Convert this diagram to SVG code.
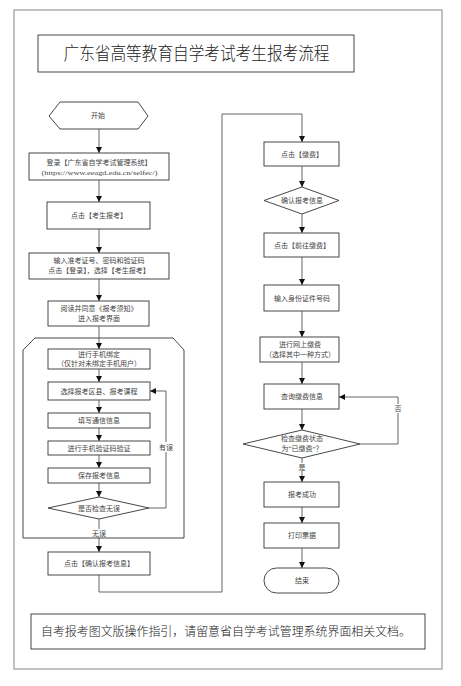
<svg xmlns="http://www.w3.org/2000/svg" width="461" height="686" viewBox="0 0 461 686">
<defs>
<style>
.frame{fill:none;stroke:#999;stroke-width:1.2}
.box{fill:#fff;stroke:#333;stroke-width:0.9}
.ln{fill:none;stroke:#555;stroke-width:0.9}
.t{font-family:"Liberation Serif","Noto Sans CJK SC",serif;font-size:7px;fill:#444;text-anchor:middle}
.title{font-family:"Noto Sans CJK SC",sans-serif;font-size:18px;font-weight:300;fill:#222;text-anchor:middle}
.foot{font-family:"Noto Sans CJK SC",sans-serif;font-size:12px;font-weight:300;fill:#222;text-anchor:middle}
.lbl{fill:#fff;stroke:none}
</style>
<marker id="ah" markerUnits="userSpaceOnUse" markerWidth="6" markerHeight="6" viewBox="0 0 6 6" refX="6" refY="3" orient="auto">
<path d="M0,0 L6,3 L0,6 Z" fill="#111"/>
</marker>
</defs>
<rect width="461" height="686" fill="#fff"/>
<rect class="frame" x="14" y="10" width="428" height="659"/>
<g id="title"><rect class="box" x="38" y="35" width="316" height="37"/><text class="title" x="196.5" y="60" textLength="266" lengthAdjust="spacingAndGlyphs">广东省高等教育自学考试考生报考流程</text></g>
<g id="container"><path class="box" d="M35,338 H173 L184,350 V538 H23 V350 Z"/></g>
<g id="start"><polygon class="box" points="49,116 60,102 138,102 148,116 138,129 60,129"/><text class="t" x="98" y="118">开始</text></g>
<g id="login"><rect class="box" x="29" y="153" width="140" height="27"/><text class="t" x="99" y="165">登录【广东省自学考试管理系统】</text><text class="t" x="99.5" y="175" textLength="116" lengthAdjust="spacingAndGlyphs">(https://www.eeagd.edu.cn/selfec/)</text></g>
<g id="kaosheng"><rect class="box" x="47" y="202" width="103" height="27"/><text class="t" x="99" y="218">点击【考生报考】</text></g>
<g id="input"><rect class="box" x="29" y="253" width="140" height="26"/><text class="t" x="99" y="263">输入准考证号、密码和验证码</text><text class="t" x="99" y="273">点击【登录】，选择【考生报考】</text></g>
<g id="read"><rect class="box" x="48" y="301" width="101" height="25"/><text class="t" x="99" y="311">阅读并同意《报考须知》</text><text class="t" x="99" y="321">进入报考界面</text></g>
<g id="bind"><rect class="box" x="48" y="349" width="102" height="20"/><text class="t" x="99" y="357">进行手机绑定</text><text class="t" x="99" y="366">（仅针对未绑定手机用户）</text></g>
<g id="select"><rect class="box" x="48" y="382" width="102" height="18"/><text class="t" x="99" y="393.5">选择报考区县、报考课程</text></g>
<g id="fill"><rect class="box" x="48" y="413" width="102" height="15"/><text class="t" x="99" y="423">填写通信信息</text></g>
<g id="verify"><rect class="box" x="48" y="441" width="102" height="14"/><text class="t" x="99" y="450.5">进行手机验证码验证</text></g>
<g id="save"><rect class="box" x="48" y="468" width="102" height="15"/><text class="t" x="99" y="478">保存报考信息</text></g>
<g id="check"><polygon class="box" points="48,508 99,497 149,508 99,519"/><text class="t" x="99" y="510.5">是否检查无误</text></g>
<g id="confirm"><rect class="box" x="48" y="552" width="102" height="23"/><text class="t" x="99" y="566">点击【确认报考信息】</text></g>
<g id="pay"><rect class="box" x="264" y="142" width="75" height="24"/><text class="t" x="302" y="156.5">点击【缴费】</text></g>
<g id="confirminfo"><polygon class="box" points="264,200.5 302,187 339,200.5 302,214"/><text class="t" x="302" y="203">确认报考信息</text></g>
<g id="gopay"><rect class="box" x="264" y="233" width="75" height="24"/><text class="t" x="302" y="247.5">点击【前往缴费】</text></g>
<g id="idnum"><rect class="box" x="264" y="285" width="75" height="26"/><text class="t" x="302" y="300.5">输入身份证件号码</text></g>
<g id="online"><rect class="box" x="260" y="337" width="79" height="25"/><text class="t" x="300" y="347">进行网上缴费</text><text class="t" x="300" y="357">（选择其中一种方式）</text></g>
<g id="query"><rect class="box" x="264" y="384" width="75" height="25"/><text class="t" x="302" y="399">查询缴费信息</text></g>
<g id="status"><polygon class="box" points="243,444 302,430 360,444 302,458"/><text class="t" x="302" y="441">检查缴费状态</text><text class="t" x="302" y="451">为“已缴费”？</text></g>
<g id="success"><rect class="box" x="264" y="482" width="75" height="25"/><text class="t" x="302" y="497">报考成功</text></g>
<g id="print"><rect class="box" x="264" y="523" width="75" height="25"/><text class="t" x="302" y="538">打印票据</text></g>
<g id="end"><rect class="box" x="264" y="568" width="75" height="25" rx="12.5" ry="12.5"/><text class="t" x="302" y="583">结束</text></g>
<g id="footer"><rect class="box" x="31" y="614" width="394" height="35"/><text class="foot" x="226" y="636" textLength="370" lengthAdjust="spacingAndGlyphs">自考报考图文版操作指引，请留意省自学考试管理系统界面相关文档。</text></g>
<g id="connectors">
<path class="ln" marker-end="url(#ah)" d="M99,129 V153"/>
<path class="ln" marker-end="url(#ah)" d="M99,180 V202"/>
<path class="ln" marker-end="url(#ah)" d="M99,229 V253"/>
<path class="ln" marker-end="url(#ah)" d="M99,279 V301"/>
<path class="ln" marker-end="url(#ah)" d="M99,326 V349"/>
<path class="ln" marker-end="url(#ah)" d="M99,369 V382"/>
<path class="ln" marker-end="url(#ah)" d="M99,400 V413"/>
<path class="ln" marker-end="url(#ah)" d="M99,428 V441"/>
<path class="ln" marker-end="url(#ah)" d="M99,455 V468"/>
<path class="ln" marker-end="url(#ah)" d="M99,483 V497"/>
<path class="ln" marker-end="url(#ah)" d="M99,519 V552"/>
<path class="ln" marker-end="url(#ah)" d="M149,508 H166 V391 H150"/>
<path class="ln" marker-end="url(#ah)" d="M99,575 V592 H222 V114 H302 V142"/>
<path class="ln" marker-end="url(#ah)" d="M302,166 V187"/>
<path class="ln" marker-end="url(#ah)" d="M302,214 V233"/>
<path class="ln" marker-end="url(#ah)" d="M302,257 V285"/>
<path class="ln" marker-end="url(#ah)" d="M302,311 V337"/>
<path class="ln" marker-end="url(#ah)" d="M302,362 V384"/>
<path class="ln" marker-end="url(#ah)" d="M302,409 V430"/>
<path class="ln" marker-end="url(#ah)" d="M302,458 V482"/>
<path class="ln" marker-end="url(#ah)" d="M302,507 V523"/>
<path class="ln" marker-end="url(#ah)" d="M302,548 V568"/>
<path class="ln" marker-end="url(#ah)" d="M360,444 H398 V397 H339"/>
<rect class="lbl" x="159" y="442" width="14" height="10"/><text class="t" x="166" y="450">有误</text>
<rect class="lbl" x="92" y="529" width="14" height="8"/><text class="t" x="99" y="536">无误</text>
<rect class="lbl" x="296" y="463" width="12" height="8"/><text class="t" x="302" y="470">是</text>
<rect class="lbl" x="393" y="404" width="10" height="9"/><text class="t" x="398" y="411">否</text>
</g>
</svg>
